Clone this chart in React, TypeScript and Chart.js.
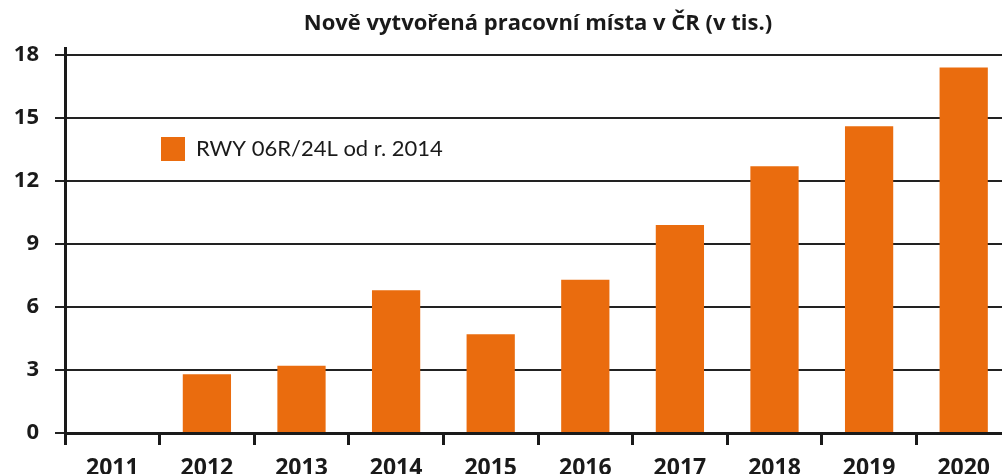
import React, { useEffect, useRef } from "react";
import { Chart, registerables } from "chart.js";

Chart.register(...registerables);

const TITLE = "Nově vytvořená pracovní místa v ČR (v tis.)";
const SERIES_LABEL = "RWY 06R/24L od r. 2014";
const YEARS = ["2011", "2012", "2013", "2014", "2015", "2016", "2017", "2018", "2019", "2020"];
const VALUES = [0, 2.8, 3.2, 6.8, 4.7, 7.3, 9.9, 12.7, 14.6, 17.4];
const BAR_COLOR = "#EA6C0E";
const TEXT_COLOR = "#1a1a1a";
const FONT = "'Open Sans', sans-serif";
const LEGEND_FONT = "Lato, 'Open Sans', sans-serif";

const W = 1011;
const H = 490;

const titleAndLegend = {
  id: "titleAndLegend",
  afterDraw(chart: any) {
    const { ctx, chartArea } = chart;
    const ds = chart.data.datasets[0];
    ctx.save();
    // title, centred over the plot area
    ctx.fillStyle = TEXT_COLOR;
    ctx.font = `700 22px ${FONT}`;
    ctx.textAlign = "center";
    ctx.textBaseline = "middle";
    ctx.fillText(TITLE, (chartArea.left + chartArea.right) / 2, 24);
    // legend inside plot area
    const x = chartArea.left + 96;
    const y = chartArea.top + 89;
    ctx.fillStyle = ds.backgroundColor;
    ctx.fillRect(x, y, 24, 24);
    ctx.fillStyle = TEXT_COLOR;
    ctx.font = `400 22px ${LEGEND_FONT}`;
    ctx.textAlign = "left";
    ctx.fillText(ds.label, x + 35, y + 12);
    ctx.restore();
  },
};

export default function App() {
  const ref = useRef<HTMLCanvasElement>(null);
  useEffect(() => {
    if (!ref.current) return;
    const chart = new Chart(ref.current, {
      type: "bar",
      data: {
        labels: YEARS,
        datasets: [
          {
            label: SERIES_LABEL,
            data: VALUES,
            backgroundColor: BAR_COLOR,
            borderWidth: 0,
            categoryPercentage: 1,
            barPercentage: 0.51,
          },
        ],
      },
      options: {
        responsive: false,
        animation: false,
        devicePixelRatio: 1,
        layout: { padding: { top: 48, right: 0, bottom: 0, left: 0 } },
        plugins: {
          legend: { display: false },
          tooltip: { enabled: false },
          title: { display: false },
        },
        scales: {
          x: {
            afterFit: (s: any) => {
              s.height = 57;
            },
            grid: {
              display: true,
              drawOnChartArea: false,
              drawTicks: true,
              tickLength: 12,
              tickWidth: 3,
              tickColor: TEXT_COLOR,
              offset: true,
              lineWidth: 3,
              color: TEXT_COLOR,
            },
            border: { display: true, width: 3, color: TEXT_COLOR },
            ticks: {
              color: TEXT_COLOR,
              padding: 10,
              maxRotation: 0,
              font: { family: FONT, size: 23, weight: "bold" },
            },
          },
          y: {
            min: 0,
            max: 18.33,
            afterFit: (s: any) => {
              s.width = 65;
            },
            grid: {
              color: "#222",
              lineWidth: 2,
              tickLength: 10,
              drawTicks: true,
            },
            border: { display: true, width: 3, color: TEXT_COLOR },
            ticks: {
              stepSize: 3,
              includeBounds: false,
              color: TEXT_COLOR,
              padding: 16,
              font: { family: FONT, size: 22, weight: "bold" },
            },
          },
        },
      },
      plugins: [titleAndLegend],
    });
    return () => chart.destroy();
  }, []);

  return (
    <div
      style={{
        position: "fixed",
        left: 0,
        top: 0,
        width: 1002,
        height: 474,
        overflow: "hidden",
        background: "#fff",
      }}
    >
      <canvas ref={ref} width={W} height={H} style={{ width: W, height: H, display: "block" }} />
    </div>
  );
}
